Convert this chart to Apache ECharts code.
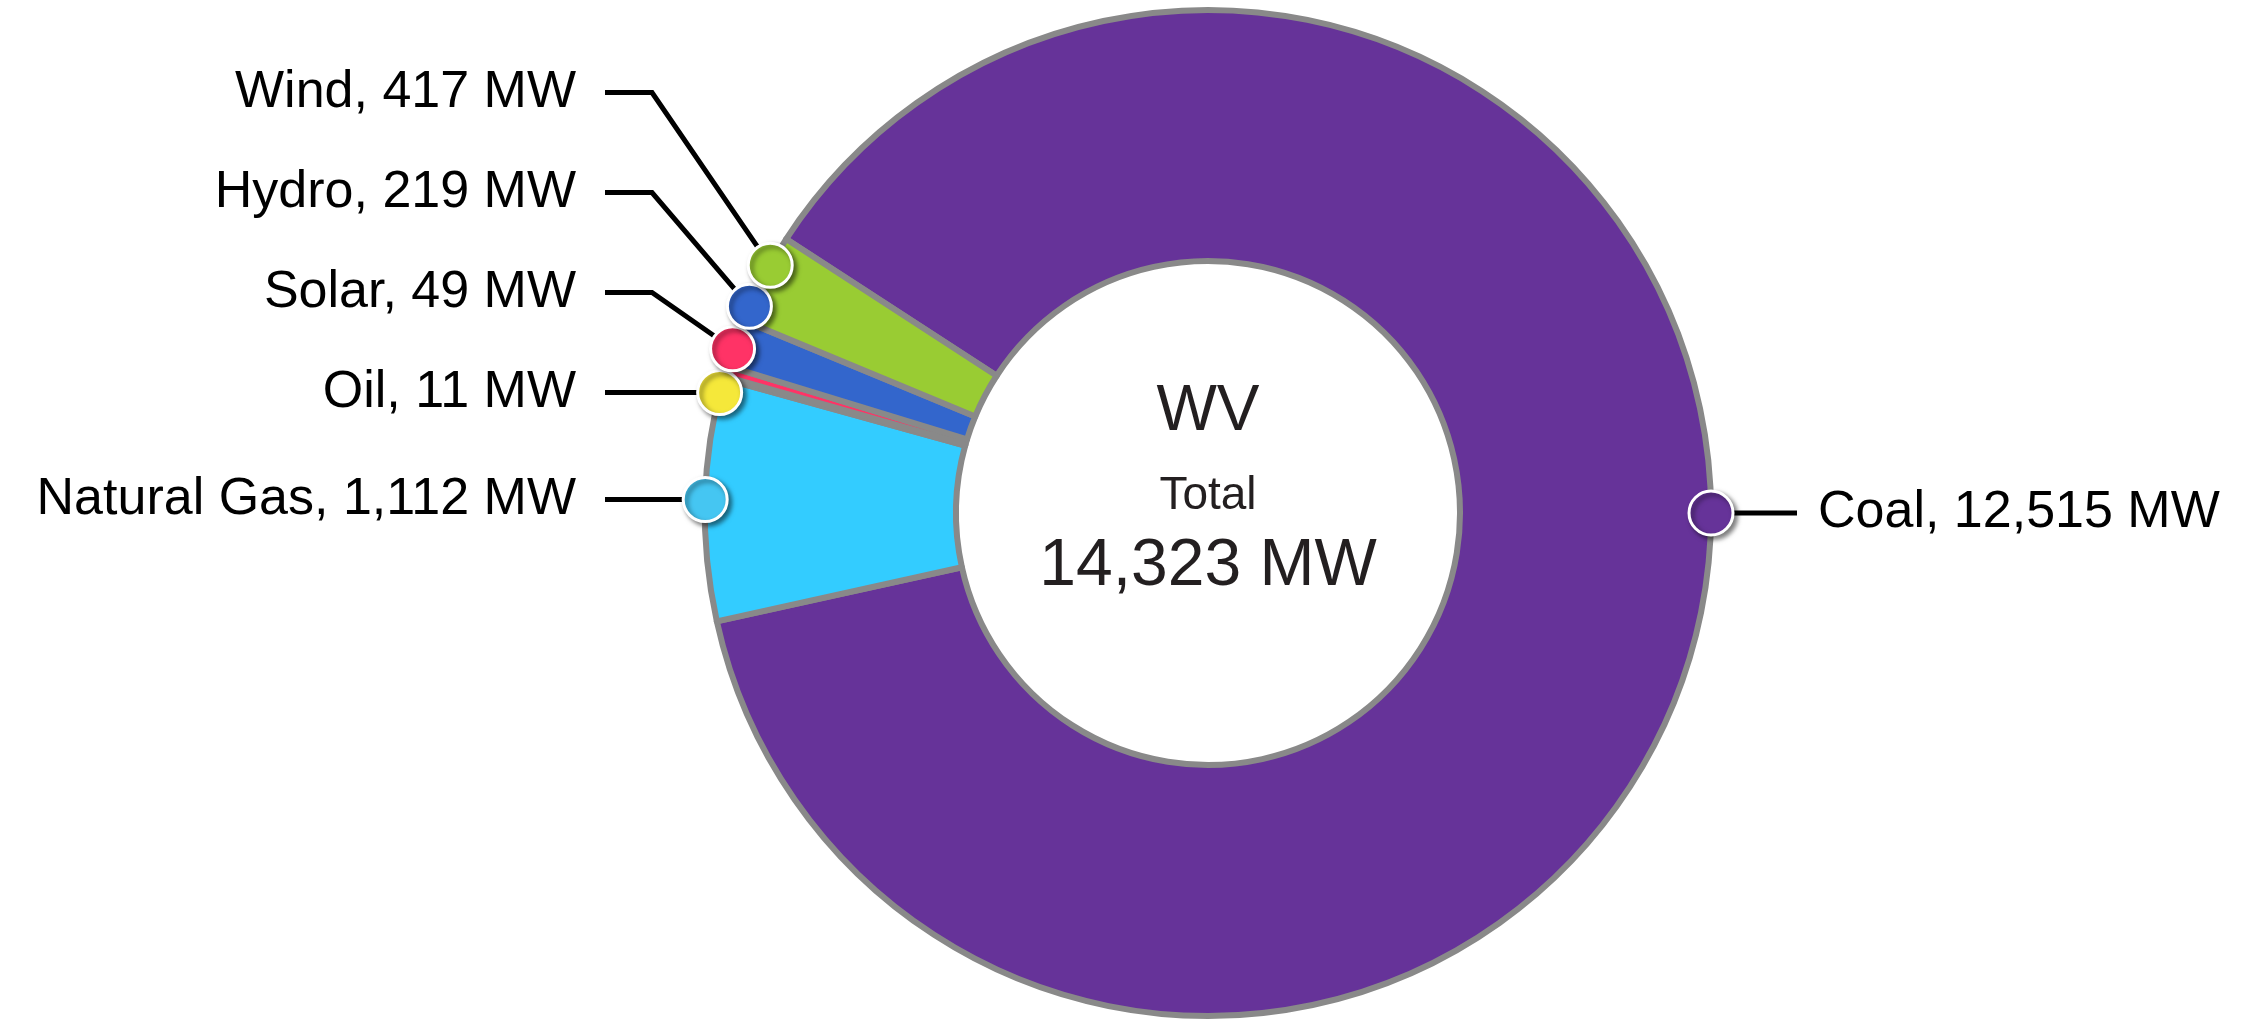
<!DOCTYPE html>
<html>
<head>
<meta charset="utf-8">
<title>WV capacity</title>
<script src="https://cdn.jsdelivr.net/npm/echarts@6/dist/echarts.min.js"></script>
<style>
  html, body { margin: 0; padding: 0; background: #fff; }
  #chart { width: 2259px; height: 1020px; }
</style>
</head>
<body>
<div id="chart"></div>
<script>
// data
const stateName = 'WV';
const categories = ['Coal', 'Natural Gas', 'Oil', 'Solar', 'Hydro', 'Wind'];
const capacityMW = [12515, 1112, 11, 49, 219, 417];
const sliceColors = ['#663399', '#33ccff', '#f5e83a', '#ff3366', '#3366cc', '#99cc33'];
const dotColors = ['#663399', '#45c6f2', '#f5e83a', '#ff3366', '#3366cc', '#99cc33'];

// layout
const CX = 1208, CY = 513;
const R_OUT = 503, R_IN = 252;
const START = 147;
const DOT_GAP = 5.2;      // min angle between dots (deg)
const LABEL_GAP = 100;    // min vertical gap between left labels
const LEFT_TEXT_X = 576;
const LEFT_LINE_X = 605;
const LEFT_KNEE_X = 652;

const total = capacityMW.reduce(function (s, v) { return s + v; }, 0);
const fmt = function (v) { return v.toLocaleString('en-US'); };

// anchor angle of each slice (math degrees, clockwise = decreasing)
let mids = [];
let a = START;
capacityMW.forEach(function (v, i) {
	let span = v / total * 360;
	let from = a, to = a - span, mid = a - span / 2;
	let k = Math.floor(from / 180) * 180;
	if (k > to && Math.abs(mid - k) > 5) {
		mid = k;
	}
	mids.push(mid);
	a = to;
});
// spread the small ones on the left so the dots do not overlap:
// blend of a push-up spread and a symmetric spread
let up = mids.slice();
for (let i = 2; i < up.length; i++) {
	up[i] = Math.min(up[i], up[i - 1] - DOT_GAP);
}
let sym = mids.slice();
for (let it = 0; it < 200; it++) {
	for (let i = 2; i < sym.length; i++) {
		let gap = sym[i - 1] - sym[i];
		if (gap < DOT_GAP) {
			let push = (DOT_GAP - gap) / 2;
			sym[i - 1] += push;
			sym[i] -= push;
		}
	}
}
const anchor = mids.map(function (m, i) { return i < 2 ? m : (up[i] + sym[i]) / 2; });

const dotPos = anchor.map(function (ang) {
	let r = ang * Math.PI / 180;
	return [CX + R_OUT * Math.cos(r), CY - R_OUT * Math.sin(r)];
});
// label heights
let labelY = [];
dotPos.forEach(function (p, i) {
	if (i <= 1) { labelY.push(p[1]); return; }
	labelY.push(Math.min(p[1], labelY[i - 1] - LABEL_GAP));
});

const chart = echarts.init(document.getElementById('chart'), null, { renderer: 'canvas' });

const option = {
	animation: false,
	backgroundColor: '#fff',
	polar: { center: [CX, CY], radius: R_OUT },
	angleAxis: { type: 'value', min: 0, max: 360, startAngle: 0, clockwise: false, show: false },
	radiusAxis: { type: 'value', min: 0, max: 1, show: false },
	graphic: [
		{ type: 'text', x: CX, y: 412, z: 10, style: { text: stateName, fontSize: 64, fontFamily: 'Liberation Sans', fill: '#231f20', align: 'center', verticalAlign: 'middle' } },
		{ type: 'text', x: CX, y: 496, z: 10, style: { text: 'Total', fontSize: 46, fontFamily: 'Liberation Sans', fill: '#231f20', align: 'center', verticalAlign: 'middle' } },
		{ type: 'text', x: CX, y: 567, z: 10, style: { text: fmt(total) + ' MW', fontSize: 66, fontFamily: 'Liberation Sans', fill: '#231f20', align: 'center', verticalAlign: 'middle' } }
	],
	series: [
		{
			type: 'pie',
			z: 2,
			center: [CX, CY],
			radius: [R_IN, R_OUT],
			startAngle: START,
			clockwise: true,
			avoidLabelOverlap: false,
			silent: true,
			itemStyle: { borderColor: '#898989', borderWidth: 6 },
			label: {
				show: true,
				position: 'outside',
				formatter: function (p) { return p.name + ', ' + fmt(p.value) + ' MW'; },
				fontSize: 52,
				fontFamily: 'Liberation Sans',
				color: '#000'
			},
			labelLine: { show: true, lineStyle: { color: '#000', width: 5 } },
			labelLayout: function (p) {
				let i = p.dataIndex;
				let d = dotPos[i], y = labelY[i];
				if (d[0] > CX) {
					return {
						x: d[0] + 107, y: y, align: 'left', verticalAlign: 'middle',
						labelLinePoints: [d, [d[0] + 50, y], [d[0] + 86, y]]
					};
				}
				let knee = Math.abs(d[1] - y) < 1 ? [(d[0] + LEFT_LINE_X) / 2, y] : [LEFT_KNEE_X, y];
				return {
					x: LEFT_TEXT_X, y: y, align: 'right', verticalAlign: 'middle',
					labelLinePoints: [d, knee, [LEFT_LINE_X, y]]
				};
			},
			data: categories.map(function (c, i) {
				return { name: c, value: capacityMW[i], itemStyle: { color: sliceColors[i] } };
			})
		},
		{
			type: 'scatter',
			coordinateSystem: 'polar',
			zlevel: 1,
			z: 5,
			silent: true,
			symbolSize: 44,
			data: anchor.map(function (ang, i) {
				return {
					value: [1, ((ang % 360) + 360) % 360],
					itemStyle: {
						opacity: 1,
						color: dotColors[i], borderColor: '#fff', borderWidth: 3,
						shadowBlur: 5, shadowColor: 'rgba(0,0,0,0.5)', shadowOffsetX: 3, shadowOffsetY: 3
					}
				};
			})
		}
	]
};

chart.setOption(option);
window.onresize = chart.resize;
</script>
</body>
</html>
